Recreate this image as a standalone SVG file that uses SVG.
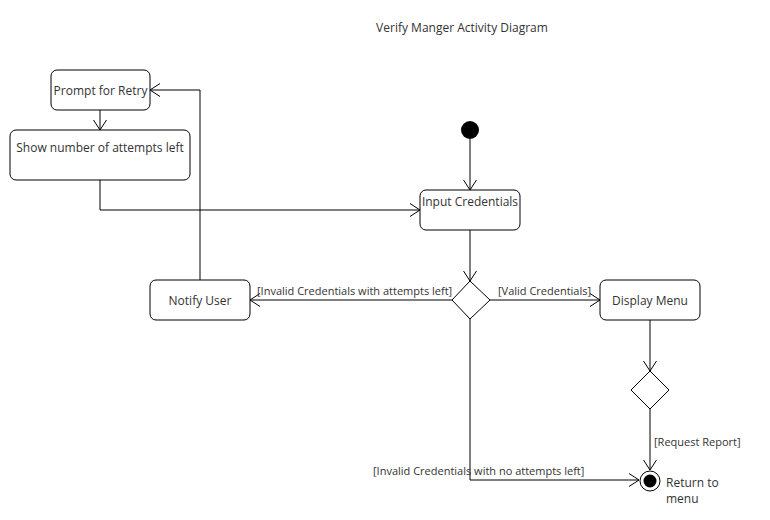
<svg xmlns="http://www.w3.org/2000/svg" width="770" height="520" viewBox="0 0 770 520">
<style>
.n{fill:#fff;stroke:#000;stroke-width:1}
.t{font-family:"Open Sans","DejaVu Sans",sans-serif;font-size:12px;fill:#333}
.l{font-family:"Open Sans","DejaVu Sans",sans-serif;font-size:11px;fill:#333}
.c{fill:none;stroke:#000;stroke-width:1}
</style>
<defs>
<marker id="a" markerWidth="12" markerHeight="14" refX="10" refY="7" orient="auto" markerUnits="userSpaceOnUse">
<path d="M0,0.5 L10,7 L0,13.5" fill="none" stroke="#000" stroke-width="1"/>
</marker>
</defs>
<rect width="770" height="520" fill="#fff"/>
<text class="t" x="462" y="32" text-anchor="middle">Verify Manger Activity Diagram</text>
<g id="connectors">
<path class="c" d="M100,110 V130" marker-end="url(#a)"/>
<path class="c" d="M100,180 V210 H420" marker-end="url(#a)"/>
<path class="c" d="M470,139 V190" marker-end="url(#a)"/>
<path class="c" d="M470,230 V281" marker-end="url(#a)"/>
<path class="c" d="M452,300 H250" marker-end="url(#a)"/>
<path class="c" d="M200,280 V90 H150" marker-end="url(#a)"/>
<path class="c" d="M490,300 H600" marker-end="url(#a)"/>
<path class="c" d="M650,320 V371" marker-end="url(#a)"/>
<path class="c" d="M650,409 V470" marker-end="url(#a)"/>
<path class="c" d="M470,319 V480 H639" marker-end="url(#a)"/>
<text class="l" x="257" y="295">[Invalid Credentials with attempts left]</text>
<text class="l" x="498" y="295">[Valid Credentials]</text>
<text class="l" x="654" y="446">[Request Report]</text>
<text class="l" x="373" y="475">[Invalid Credentials with no attempts left]</text>
</g>
<g id="prompt"><rect class="n" x="51" y="70" width="99" height="40" rx="6"/><text class="t" x="100.5" y="95" text-anchor="middle">Prompt for Retry</text></g>
<g id="show"><rect class="n" x="10" y="130" width="180" height="50" rx="6"/><text class="t" x="100" y="152" text-anchor="middle">Show number of attempts left</text></g>
<g id="start"><circle cx="470" cy="130" r="9" fill="#000"/></g>
<g id="input"><rect class="n" x="420" y="190" width="100" height="40" rx="6"/><text class="t" x="470" y="206" text-anchor="middle">Input Credentials</text></g>
<g id="decision1"><path class="n" d="M470,281 L490,300 L470,319 L452,300 Z"/></g>
<g id="notify"><rect class="n" x="150" y="280" width="100" height="40" rx="6"/><text class="t" x="200" y="305" text-anchor="middle">Notify User</text></g>
<g id="menu"><rect class="n" x="600" y="280" width="100" height="40" rx="6"/><text class="t" x="650" y="305" text-anchor="middle">Display Menu</text></g>
<g id="decision2"><path class="n" d="M650,371 L669,390 L650,409 L631,390 Z"/></g>
<g id="end"><circle cx="650" cy="481" r="10" fill="#fff" stroke="#000"/><circle cx="650" cy="481" r="6.5" fill="#000"/><text class="t" x="666" y="487">Return to</text><text class="t" x="666" y="503">menu</text></g>
</svg>
